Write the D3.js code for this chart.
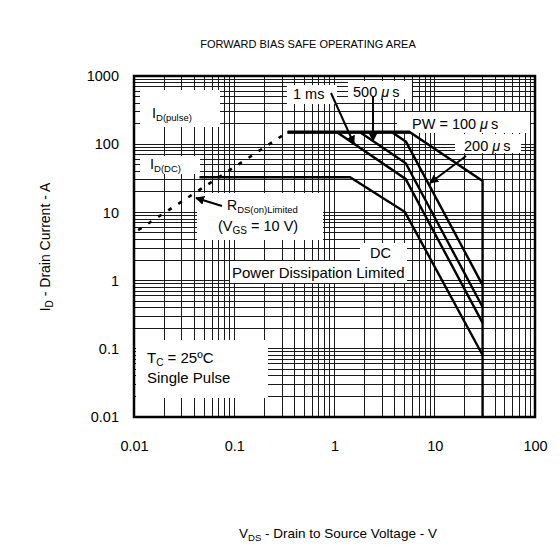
<!DOCTYPE html>
<html><head><meta charset="utf-8">
<script src="https://cdn.jsdelivr.net/npm/d3@7"></script>
<style>body{margin:0;background:#fff}svg{display:block}text{font-family:"Liberation Sans",Arial,sans-serif;fill:#000}</style>
</head><body>
<svg id="c" width="560" height="558"></svg>
<script>
// ---- data (V, A) ----
const xTicks = [0.01, 0.1, 1, 10, 100];
const yTicks = [0.01, 0.1, 1, 10, 100, 1000];
const xTickLabels = ["0.01", "0.1", "1", "10", "100"];
const yTickLabels = ["0.01", "0.1", "1", "10", "100", "1000"];
const rdsLimit = [[0.011, 5.5], [0.34, 150]];
const pw100us = [[0.34, 150], [5.66, 150], [30, 28.9], [30, 0.01]];
const pw200us = [[3.75, 150], [5.16, 109], [30, 0.86]];
const pw500us = [[1.8, 150], [5.14, 52.5], [30, 0.41]];
const pw1ms = [[1.06, 150], [5.12, 31], [30, 0.24]];
const dcCurve = [[0.045, 32.7], [1.43, 32.7], [5.05, 10.1], [30, 0.081]];

const svg = d3.select("#c");
const L = 134, R = 535, T = 76, B = 417;
const x = d3.scaleLog().domain([0.01, 100]).range([L, R]);
const y = d3.scaleLog().domain([0.01, 1000]).range([B, T]);

// grid
const g = svg.append("g").attr("shape-rendering", "crispEdges");
const minorX = [], minorY = [];
for (let e = -2; e < 2; e++) for (let k = 1; k <= 9; k++) minorX.push(k * Math.pow(10, e));
for (let e = -2; e < 3; e++) for (let k = 1; k <= 9; k++) minorY.push(k * Math.pow(10, e));
g.selectAll(".gx").data(minorX).enter().append("line")
  .attr("x1", d => x(d)).attr("x2", d => x(d)).attr("y1", T).attr("y2", B)
  .attr("stroke", "#1a1a1a").attr("stroke-width", 1);
g.selectAll(".gy").data(minorY).enter().append("line")
  .attr("y1", d => y(d)).attr("y2", d => y(d)).attr("x1", L).attr("x2", R)
  .attr("stroke", "#1a1a1a").attr("stroke-width", 1);

// axes labels
const xAxis = d3.axisBottom(x).tickValues(xTicks).tickSize(0).tickFormat((d, i) => xTickLabels[i]);
const yAxis = d3.axisLeft(y).tickValues(yTicks).tickSize(0).tickFormat((d, i) => yTickLabels[i]);
const xa = svg.append("g").attr("transform", `translate(0,${B + 21})`).call(xAxis);
const ya = svg.append("g").attr("transform", `translate(${L - 12},0)`).call(yAxis);
[xa, ya].forEach(a => { a.select(".domain").remove(); a.selectAll("text").attr("font-size", 14.5).attr("font-family", '"Liberation Sans",Arial,sans-serif').attr("fill", "#000"); });

// white label boxes
const boxes = [
  [140, 90, 80, 37], [140, 156, 60, 18], [287, 85, 50, 19], [348, 81, 64, 18],
  [397, 112, 133, 21], [455, 134, 66, 19], [197, 193, 126, 47],
  [360, 243, 47, 18], [230, 261, 177, 22], [136, 340, 132, 58]
];
svg.selectAll(".box").data(boxes).enter().append("rect")
  .attr("x", d => d[0]).attr("y", d => d[1]).attr("width", d => d[2]).attr("height", d => d[3])
  .attr("fill", "#fff");

// curves
const line = d3.line().x(d => x(d[0])).y(d => y(d[1]));
svg.append("path").datum(rdsLimit).attr("d", line).attr("fill", "none")
  .attr("stroke", "#000").attr("stroke-width", 2.6).attr("stroke-dasharray", "4,8");
[pw100us, pw200us, pw500us, pw1ms, dcCurve].forEach(c => {
  svg.append("path").datum(c).attr("d", line).attr("fill", "none")
    .attr("stroke", "#000").attr("stroke-width", 2.4).attr("stroke-linejoin", "miter");
});
svg.append("path").datum(pw100us.slice(0, 2)).attr("d", line).attr("fill", "none").attr("stroke", "#000").attr("stroke-width", 3.2);

// border
svg.append("rect").attr("x", L).attr("y", T).attr("width", R - L).attr("height", B - T)
  .attr("fill", "none").attr("stroke", "#000").attr("stroke-width", 2.5);

// arrows
const defs = svg.append("defs");
defs.append("marker").attr("id", "ah").attr("viewBox", "0 0 10 10").attr("refX", 9).attr("refY", 5)
  .attr("markerWidth", 4.5).attr("markerHeight", 4.5).attr("orient", "auto").attr("markerUnits", "strokeWidth")
  .append("path").attr("d", "M0,0L10,5L0,10z").attr("fill", "#000");
const arrows = [[331, 93, 354, 144], [373, 97, 373, 141], [466, 156, 430, 183], [222, 206, 196, 198]];
svg.selectAll(".ar").data(arrows).enter().append("line")
  .attr("x1", d => d[0]).attr("y1", d => d[1]).attr("x2", d => d[2]).attr("y2", d => d[3])
  .attr("stroke", "#000").attr("stroke-width", 2).attr("marker-end", "url(#ah)");

// text helpers
function txt(xp, yp, parts, size, anchor) {
  const t = svg.append("text").attr("x", xp).attr("y", yp).attr("font-size", size).attr("text-anchor", anchor || "start");
  parts.forEach(p => {
    if (typeof p === "string") t.append("tspan").text(p);
    else {
      const s = t.append("tspan").text(p.t);
      if (p.s) s.attr("font-size", p.s);
      if (p.dy) s.attr("dy", p.dy);
      if (p.dx) s.attr("dx", p.dx);
      if (p.i) s.attr("font-style", "italic");
    }
  });
  return t;
}
txt(152, 118, ["I", {t: "D(pulse)", s: 9.5, dy: 3}], 14.5);
txt(150, 169, ["I", {t: "D(DC)", s: 9.5, dy: 3}], 14.5);
txt(293, 99, ["1 ms"], 14.5);
txt(353, 97, ["500 ", {t: "\u03bc", i: 1}, {t: "s", dx: 3}], 14.5);
txt(412, 129, ["PW = 100 ", {t: "\u03bc", i: 1}, {t: "s", dx: 3}], 14.5);
txt(464, 151, ["200 ", {t: "\u03bc", i: 1}, {t: "s", dx: 3}], 14.5);
txt(227, 210, ["R", {t: "DS(on)Limited", s: 9.5, dy: 3}], 14);
txt(218, 231, ["(V", {t: "GS", s: 10, dy: 3}, {t: " = 10 V)", dy: -3}], 14.5);
txt(370, 258, ["DC"], 14.5);
txt(232, 278, ["Power Dissipation Limited"], 15);
txt(147, 363, ["T", {t: "C", s: 10, dy: 3}, {t: " = 25\u00baC", dy: -3}], 15);
txt(147, 383, ["Single Pulse"], 15);

// title & axis titles
txt(308, 48, ["FORWARD BIAS SAFE OPERATING AREA"], 11, "middle");
txt(338, 538, ["V", {t: "DS", s: 9.5, dy: 3}, {t: " - Drain to Source Voltage - V", dy: -3}], 13.5, "middle");
txt(0, 0, ["I", {t: "D", s: 10, dy: 3}, {t: " - Drain Current - A", dy: -3}], 14, "middle")
  .attr("transform", "translate(50,247) rotate(-90)");
</script>
</body></html>
